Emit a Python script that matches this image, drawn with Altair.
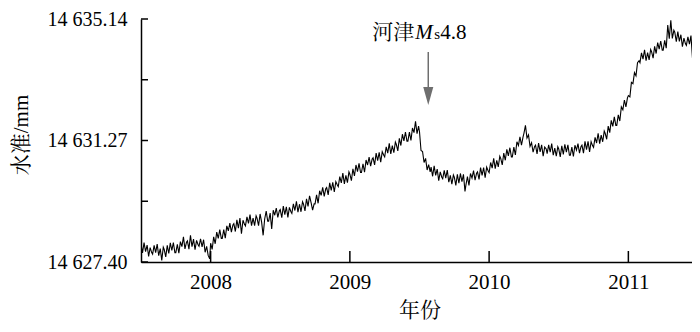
import altair as alt
import pandas as pd

# ---- data -------------------------------------------------------------
days = [1, 5, 9, 13, 17, 21, 25, 29]

v2007 = [  # Jul..Dec 2007, 8 readings a month
    14627.97, 14627.69, 14628.02, 14627.73, 14627.94, 14627.58, 14627.86, 14627.70,
    14627.65, 14627.93, 14627.70, 14627.97, 14627.60, 14627.83, 14627.45, 14627.87,
    14627.80, 14627.56, 14627.93, 14627.67, 14628.01, 14627.77, 14628.02, 14627.70,
    14627.70, 14627.96, 14627.68, 14628.05, 14627.89, 14628.20, 14627.82, 14628.03,
    14628.07, 14627.81, 14628.25, 14627.89, 14628.13, 14627.79, 14628.09, 14627.95,
    14627.90, 14628.14, 14627.88, 14628.11, 14627.71, 14627.90, 14627.61, 14627.50,
]
v2008 = [
    14628.00, 14627.80, 14628.20, 14627.98, 14628.35, 14628.15, 14628.43, 14628.15,
    14628.15, 14628.43, 14628.16, 14628.55, 14628.39, 14628.64, 14628.35, 14628.58,
    14628.62, 14628.37, 14628.74, 14628.48, 14628.80, 14628.30, 14628.73, 14628.60,
    14628.55, 14628.84, 14628.63, 14628.91, 14628.56, 14628.80, 14628.56, 14628.87,
    14628.80, 14628.56, 14628.93, 14628.67, 14628.25, 14628.77, 14629.02, 14628.70,
    14628.70, 14628.96, 14628.45, 14629.05, 14628.89, 14629.12, 14628.82, 14629.03,
    14629.07, 14628.81, 14629.18, 14628.91, 14629.16, 14628.82, 14629.14, 14629.00,
    14628.95, 14629.25, 14629.04, 14629.33, 14628.99, 14629.24, 14629.00, 14629.32,
    14629.25, 14629.03, 14629.41, 14629.17, 14629.51, 14629.29, 14629.05, 14629.25,
    14629.25, 14629.54, 14629.27, 14629.67, 14629.52, 14629.78, 14629.49, 14629.73,
    14629.77, 14629.54, 14629.92, 14629.68, 14629.94, 14629.63, 14629.96, 14629.85,
    14629.80, 14630.12, 14629.92, 14630.23, 14629.89, 14630.16, 14629.93, 14630.27,
]
v2009 = [
    14630.20, 14629.99, 14630.37, 14630.14, 14630.49, 14630.28, 14630.54, 14630.25,
    14630.25, 14630.53, 14630.26, 14630.65, 14630.49, 14630.74, 14630.45, 14630.68,
    14630.72, 14630.49, 14630.87, 14630.63, 14630.89, 14630.58, 14630.91, 14630.80,
    14630.75, 14631.07, 14630.87, 14631.18, 14630.84, 14631.11, 14630.88, 14631.22,
    14631.15, 14630.94, 14631.34, 14631.11, 14631.47, 14631.26, 14631.54, 14631.25,
    14631.25, 14631.54, 14631.27, 14631.67, 14631.52, 14631.88, 14631.49, 14631.73,
    14631.55, 14630.95, 14630.92, 14630.57, 14630.70, 14630.33, 14630.50, 14630.27,
    14630.42, 14630.13, 14630.46, 14630.16, 14630.36, 14629.99, 14630.27, 14630.10,
    14630.05, 14630.32, 14630.07, 14630.33, 14629.94, 14630.16, 14629.88, 14630.17,
    14630.10, 14629.84, 14630.19, 14629.91, 14630.22, 14629.96, 14630.19, 14629.65,
    14629.85, 14630.12, 14629.84, 14630.22, 14630.07, 14630.31, 14630.01, 14630.23,
    14630.27, 14630.03, 14630.41, 14630.16, 14630.41, 14630.09, 14630.42, 14630.30,
]
v2010 = [
    14630.25, 14630.57, 14630.39, 14630.70, 14630.37, 14630.64, 14630.43, 14630.77,
    14630.70, 14630.49, 14630.87, 14630.64, 14630.99, 14630.78, 14631.04, 14630.75,
    14630.75, 14631.06, 14630.81, 14631.23, 14631.11, 14631.39, 14631.12, 14631.38,
    14631.50, 14631.75, 14631.35, 14631.45, 14631.08, 14631.20, 14630.90, 14631.08,
    14631.12, 14630.84, 14631.19, 14630.91, 14631.13, 14630.77, 14631.06, 14631.00,
    14630.85, 14631.13, 14630.90, 14631.17, 14630.80, 14631.03, 14630.77, 14631.07,
    14631.00, 14630.75, 14631.10, 14630.83, 14631.15, 14630.90, 14631.13, 14630.80,
    14630.80, 14631.06, 14630.76, 14631.12, 14630.96, 14631.17, 14630.87, 14631.08,
    14631.12, 14630.87, 14631.24, 14630.98, 14631.24, 14630.91, 14631.23, 14631.10,
    14631.05, 14631.37, 14631.19, 14631.50, 14631.17, 14631.44, 14631.23, 14631.57,
    14631.50, 14631.31, 14631.73, 14631.52, 14631.91, 14631.72, 14632.02, 14631.75,
    14631.75, 14632.09, 14631.89, 14632.34, 14632.25, 14632.56, 14632.34, 14632.63,
]
v2011 = [  # Jan..Jun 2011
    14632.70, 14632.66, 14633.12, 14633.08, 14633.43, 14633.33, 14633.75, 14633.81,
    14633.75, 14634.06, 14633.86, 14634.16, 14633.81, 14634.07, 14633.84, 14634.17,
    14634.10, 14633.89, 14634.27, 14634.04, 14634.39, 14634.18, 14634.44, 14634.15,
    14634.15, 14634.46, 14634.21, 14634.95, 14634.51, 14635.10, 14634.52, 14634.78,
    14634.72, 14634.42, 14634.74, 14634.43, 14634.64, 14634.26, 14634.53, 14634.35,
    14634.30, 14634.57, 14634.34, 14634.61, 14633.90, 14634.44, 14634.18, 14634.47,
]

y_ticks = [14627.40, 14629.335, 14631.27, 14633.205, 14635.14]
y_labels = ["14 627.40", "", "14 631.27", "", "14 635.14"]
x_ticks = [2008, 2009, 2010, 2011]
x_range = [2007.5, 2011.457]   # right edge of the frame that fits the window
event_year = 2009.563
event_text = ["河津", "M", "s", "4.8"]

# ---- build table ------------------------------------------------------
blocks = [(2007, 7, v2007), (2008, 1, v2008), (2009, 1, v2009),
          (2010, 1, v2010), (2011, 1, v2011)]
n = len(days)
rows = []
for yr, m0, vals in blocks:
    for i, v in enumerate(vals):
        m = m0 + i // n
        d = days[i % n]
        t = yr + (m - 1) / 12 + (d - 1) / 365
        rows.append({"t": t, "v": v})
df = pd.DataFrame(rows)

LAT = "Times New Roman, Liberation Serif, serif"
CJK = "Times New Roman, Liberation Serif, Noto Serif CJK SC, Noto Sans CJK SC, serif"
xs = alt.Scale(domain=x_range, nice=False, zero=False)
ys = alt.Scale(domain=[14627.40, 14635.14], nice=False, zero=False)

label_expr = " : ".join(
    f"abs(datum.value - {v}) < 0.01 ? '{l}'" for v, l in zip(y_ticks, y_labels)
) + " : ''"

W, H = 551, 243
TOP = 11
line = alt.Chart(df).mark_line(color="black", strokeWidth=1.1, clip=True).encode(
    x=alt.X("t:Q", scale=xs,
            axis=alt.Axis(values=x_ticks, format="d", title="年份", ticks=False,
                          grid=False, labelPadding=9, labelFontSize=21,
                          titleFontSize=21, titleY=48, titleBaseline="middle",
                          titleX=(W + 6) / 2,
                          titleFontWeight="normal", labelFont=LAT, titleFont=CJK,
                          domainColor="black", domainWidth=1.5, labelColor="black",
                          titleColor="black", labelFlush=False)),
    y=alt.Y("v:Q", scale=ys,
            axis=alt.Axis(values=y_ticks, labelExpr=label_expr, title="水准/mm",
                          ticks=False, grid=False, labelPadding=14,
                          labelFontSize=20, titleFontSize=21, labelFont=LAT,
                          titleFont=CJK, titleFontWeight="normal",
                          titleX=-120, titleY=H / 2 - 6, titleAlign="center",
                          titleBaseline="middle",
                          domainColor="black", domainWidth=1.5,
                          labelColor="black", titleColor="black",
                          labelFlush=False, labelOverlap=False)),
)

yt = alt.Chart(pd.DataFrame({"v": y_ticks})).mark_rule(
    color="black", strokeWidth=1.5).encode(
    y=alt.Y("v:Q", scale=ys), x=alt.value(0), x2=alt.value(7))

xt = alt.Chart(pd.DataFrame({"t": x_ticks})).mark_rule(
    color="black", strokeWidth=1.5).encode(
    x=alt.X("t:Q", scale=xs), y=alt.value(H), y2=alt.value(H - 11))

ev = pd.DataFrame({"t": [event_year]})
arrow_line = alt.Chart(ev).mark_rule(color="#6e6e6e", strokeWidth=1.5).encode(
    x=alt.X("t:Q", scale=xs), y=alt.value(33), y2=alt.value(71))
arrow_head = alt.Chart(ev).mark_point(
    shape="M-0.56,-1L0.56,-1L0,1Z", filled=True, color="#6e6e6e",
    size=324, opacity=1).encode(x=alt.X("t:Q", scale=xs), y=alt.value(77))

def txt(s, dx, font, italic=False, size=21):
    return alt.Chart(ev).mark_text(
        text=s, align="left", baseline="alphabetic", dx=dx, font=font,
        fontSize=size, fontStyle="italic" if italic else "normal",
        color="black").encode(x=alt.X("t:Q", scale=xs), y=alt.value(20))

ann = (txt(event_text[0], -56, CJK) + txt(event_text[1], -13, LAT, italic=True)
       + txt(event_text[2], 6, LAT, size=15) + txt(event_text[3], 12, LAT))

chart = alt.layer(line, yt, xt, arrow_line, arrow_head, ann).properties(
    width=W, height=H,
    autosize=alt.AutoSizeParams(type="none"),
    padding={"left": 133, "top": TOP, "right": 0, "bottom": 62},
).configure_view(stroke=None)

chart.save("out.html", embed_options={"renderer": "svg", "actions": False})
